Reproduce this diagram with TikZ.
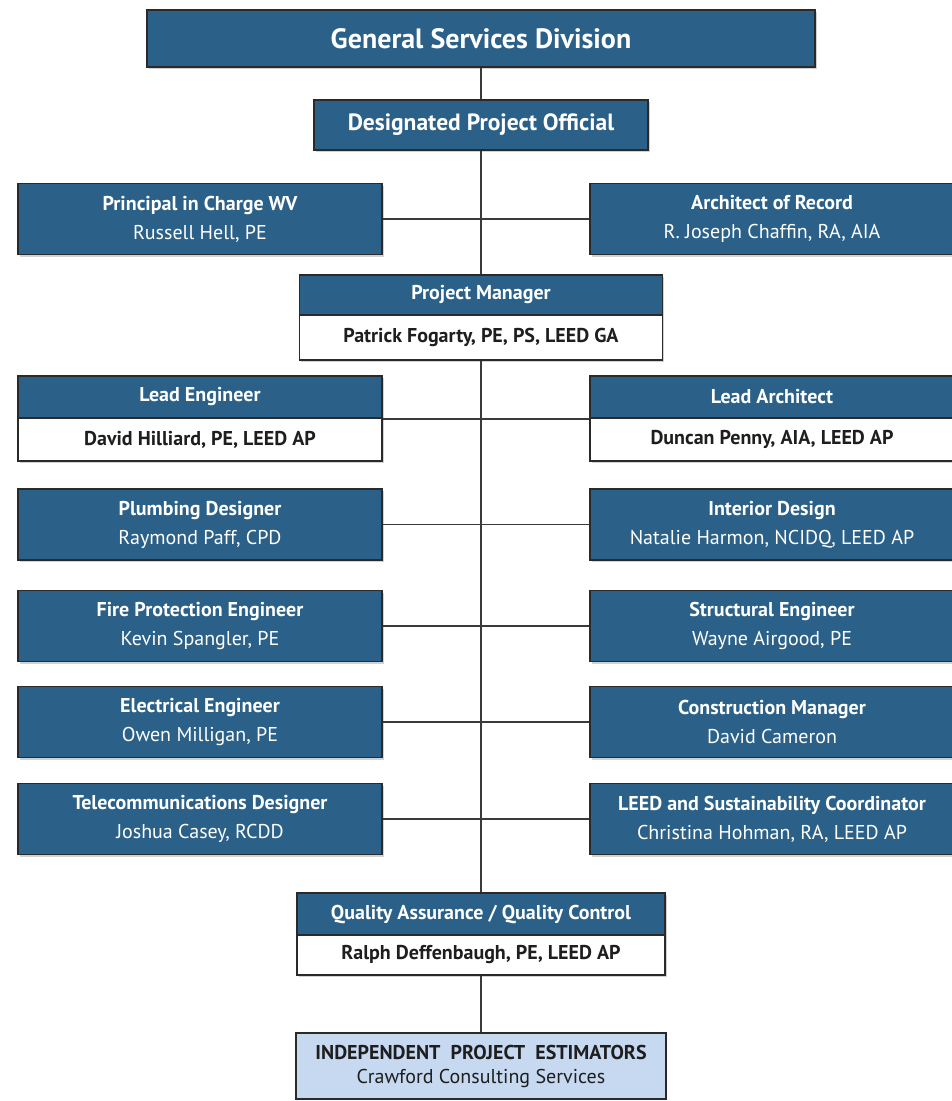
\documentclass[tikz,border=0pt]{standalone}
\usepackage{fontspec}
\setmainfont{PT Sans}
\usetikzlibrary{shadows}
\definecolor{boxblue}{HTML}{2B6088}
\definecolor{edge}{HTML}{2A2A2A}
\definecolor{lineg}{HTML}{3A3A3A}
\definecolor{lightblue}{HTML}{C6D9F1}
\definecolor{darktxt}{HTML}{1E1E1E}
\tikzset{
  base/.style={rectangle, draw=edge, line width=1.3pt, inner sep=0pt, align=center,
    drop shadow={shadow xshift=1.5pt, shadow yshift=-2pt, opacity=0.35}},
  bluebox/.style={base, fill=boxblue, text=white, minimum width=364pt, minimum height=71pt,
    font=\fontsize{20}{29}\selectfont},
  headbox/.style={base, fill=boxblue, text=white, font=\bfseries\fontsize{20}{24}\selectfont},
  namebox/.style={base, fill=white, text=darktxt, font=\bfseries\fontsize{20}{24}\selectfont},
  conn/.style={draw=lineg, line width=1.8pt},
}
\newcommand{\two}[2]{{\bfseries #1}\\{#2}}
\begin{document}
\begin{tikzpicture}[x=1pt,y=-1pt]
\useasboundingbox (0,0) rectangle (951,1101);
\fill[white] (0,0) rectangle (951,1101);

% top
\node[base, fill=boxblue, text=white, minimum width=668pt, minimum height=57pt,
  font=\bfseries\fontsize{28}{32}\selectfont] (gsd) at (481,38.5) {General Services Division};
\node[base, fill=boxblue, text=white, minimum width=334pt, minimum height=50pt,
  font=\bfseries\fontsize{23.5}{27}\selectfont] (dpo) at (481,125) {Designated Project Official};

% row 1
\node[bluebox] (pic) at (200,219) {\two{Principal in Charge WV}{Russell Hell, PE}};
\node[bluebox] (aor) at (772,219) {\two{Architect of Record}{R. Joseph Chaffin, RA, AIA}};

% project manager
\node[headbox, minimum width=363pt, minimum height=40pt] (pmh) at (481,295) {Project Manager};
\node[namebox, minimum width=363pt, minimum height=45pt] (pmn) at (481,337.5) {Patrick Fogarty, PE, PS, LEED GA};

% lead engineer / architect
\node[headbox, minimum width=364pt, minimum height=42pt] (leh) at (200,397) {Lead Engineer};
\node[namebox, minimum width=364pt, minimum height=43pt] (len) at (200,439.5) {David Hilliard, PE, LEED AP};
\node[headbox, minimum width=364pt, minimum height=42pt] (lah) at (772,397) {Lead Architect};
\node[namebox, minimum width=364pt, minimum height=43pt] (lan) at (772,439.5) {Duncan Penny, AIA, LEED AP};

% rows
\node[bluebox] (plb) at (200,524.5) {\two{Plumbing Designer}{Raymond Paff, CPD}};
\node[bluebox] (intd) at (772,524.5) {\two{Interior Design}{Natalie Harmon, NCIDQ, LEED AP}};
\node[bluebox] (fire) at (200,626) {\two{Fire Protection Engineer}{Kevin Spangler, PE}};
\node[bluebox] (stru) at (772,626) {\two{Structural Engineer}{Wayne Airgood, PE}};
\node[bluebox] (elec) at (200,722) {\two{Electrical Engineer}{Owen Milligan, PE}};
\node[bluebox] (cons) at (772,722) {\two{Construction Manager}{David Cameron}};
\node[bluebox] (tele) at (200,819) {\two{Telecommunications Designer}{Joshua Casey, RCDD}};
\node[bluebox] (leed) at (772,819) {\two{LEED and Sustainability Coordinator}{Christina Hohman, RA, LEED AP}};

% QA
\node[headbox, minimum width=368pt, minimum height=42pt] (qah) at (481,914) {Quality Assurance / Quality Control};
\node[namebox, minimum width=368pt, minimum height=40pt] (qan) at (481,955) {Ralph Deffenbaugh, PE, LEED AP};

% independent
\node[rectangle, draw=edge, line width=1.5pt, fill=lightblue, text=darktxt, inner sep=0pt,
  minimum width=370pt, minimum height=66pt, align=center, font=\fontsize{20}{24}\selectfont] (ind) at (481,1066)
  {{\bfseries INDEPENDENT\ \ PROJECT\ \ ESTIMATORS}\\{Crawford Consulting Services}};

% connectors
\draw[conn] (gsd.south) -- (dpo.north);
\draw[conn] (dpo.south) -- (pmh.north);
\draw[conn] (pmn.south) -- (qah.north);
\draw[conn] (qan.south) -- (ind.north);
\draw[conn] (pic.east) -- (aor.west);
\draw[conn] (leh.south east) -- (lah.south west);
\draw[conn] (plb.east) -- (intd.west);
\draw[conn] (fire.east) -- (stru.west);
\draw[conn] (elec.east) -- (cons.west);
\draw[conn] (tele.east) -- (leed.west);
\end{tikzpicture}
\end{document}
